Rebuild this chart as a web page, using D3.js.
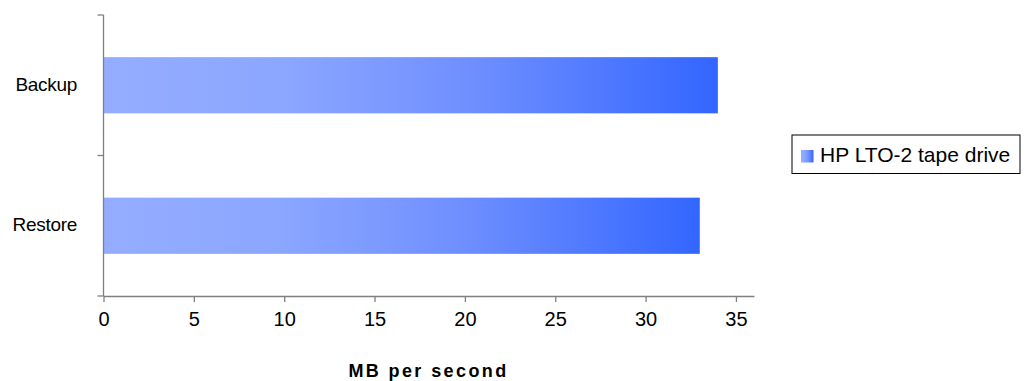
<!DOCTYPE html>
<html>
<head>
<meta charset="utf-8">
<script src="https://cdn.jsdelivr.net/npm/d3@7"></script>
<style>
  body { margin: 0; background: #fff; }
  text { font-family: "Liberation Sans", Arial, sans-serif; fill: #000; }
</style>
</head>
<body>
<div id="chart"></div>
<script>
// data
var categories = ["Backup", "Restore"];
var seriesName = "HP LTO-2 tape drive";
var mbPerSec = [34, 33];
var xTicks = [0, 5, 10, 15, 20, 25, 30, 35];

var width = 1032, height = 381;
var plot = { left: 103.5, top: 15, right: 754, bottom: 296 };

var svg = d3.select("#chart").append("svg")
  .attr("width", width)
  .attr("height", height);

// bar fill, light on the left, deep blue on the right
var grad = svg.append("defs").append("linearGradient")
  .attr("id", "barGrad")
  .attr("x1", "0%").attr("x2", "100%").attr("y1", "0%").attr("y2", "0%");
grad.append("stop").attr("offset", "0%").attr("stop-color", "#94adff");
grad.append("stop").attr("offset", "30%").attr("stop-color", "#8ba6ff");
grad.append("stop").attr("offset", "60%").attr("stop-color", "#6f8fff");
grad.append("stop").attr("offset", "100%").attr("stop-color", "#3366ff");

var x = d3.scaleLinear().domain([0, 36]).range([plot.left, plot.right]);
var y = d3.scaleBand().domain(categories).range([plot.top, plot.bottom]).paddingInner(0.6).paddingOuter(0.3);
var yEdges = d3.scaleLinear().domain([0, categories.length]).range([plot.top, plot.bottom]);

// bars
svg.selectAll(".bar")
  .data(mbPerSec)
  .enter().append("rect")
    .attr("class", "bar")
    .attr("x", x(0))
    .attr("y", function(d, i) { return y(categories[i]); })
    .attr("width", function(d) { return x(d) - x(0); })
    .attr("height", y.bandwidth())
    .attr("fill", "url(#barGrad)");

// x axis
var xAxis = svg.append("g")
  .attr("transform", "translate(0," + plot.bottom + ")")
  .call(d3.axisBottom(x).tickValues(xTicks).tickSize(6).tickSizeOuter(0).tickPadding(10));
xAxis.select(".domain").attr("stroke", "#808080").attr("stroke-width", 1.3);
xAxis.selectAll(".tick line").attr("stroke", "#808080").attr("stroke-width", 1.3);
xAxis.selectAll(".tick text")
  .style("font-size", "20px")
  .style("font-family", "'Liberation Sans', Arial, sans-serif");

// y axis line with ticks at category edges
svg.append("line")
  .attr("x1", plot.left).attr("x2", plot.left)
  .attr("y1", plot.top).attr("y2", plot.bottom)
  .attr("stroke", "#808080").attr("stroke-width", 1.3);
svg.selectAll(".ytick")
  .data(d3.range(categories.length + 1))
  .enter().append("line")
    .attr("class", "ytick")
    .attr("x1", plot.left - 6).attr("x2", plot.left)
    .attr("y1", function(d) { return yEdges(d); })
    .attr("y2", function(d) { return yEdges(d); })
    .attr("stroke", "#808080").attr("stroke-width", 1.3);

svg.selectAll(".ylabel")
  .data(categories)
  .enter().append("text")
    .attr("class", "ylabel")
    .attr("x", 77)
    .attr("y", function(d) { return y(d) + y.bandwidth() / 2; })
    .attr("dy", "0.3em")
    .attr("text-anchor", "end")
    .style("font-size", "19px")
    .style("letter-spacing", "-0.3px")
    .text(function(d) { return d; });

// axis title
svg.append("text")
  .attr("x", 428.5)
  .attr("y", 377)
  .attr("text-anchor", "middle")
  .style("font-size", "18px")
  .style("font-weight", "bold")
  .style("letter-spacing", "2.4px")
  .text("MB per second");

// legend
var legend = svg.append("g").attr("transform", "translate(792,135)");
legend.append("rect")
  .attr("width", 228).attr("height", 38.5)
  .attr("fill", "#fff").attr("stroke", "#000").attr("stroke-width", 1);
legend.append("rect")
  .attr("x", 9).attr("y", 15)
  .attr("width", 12.5).attr("height", 12.5)
  .attr("fill", "url(#barGrad)");
legend.append("text")
  .attr("x", 28).attr("y", 20)
  .attr("dy", "0.35em")
  .style("font-size", "21px")
  .text(seriesName);
</script>
</body>
</html>
